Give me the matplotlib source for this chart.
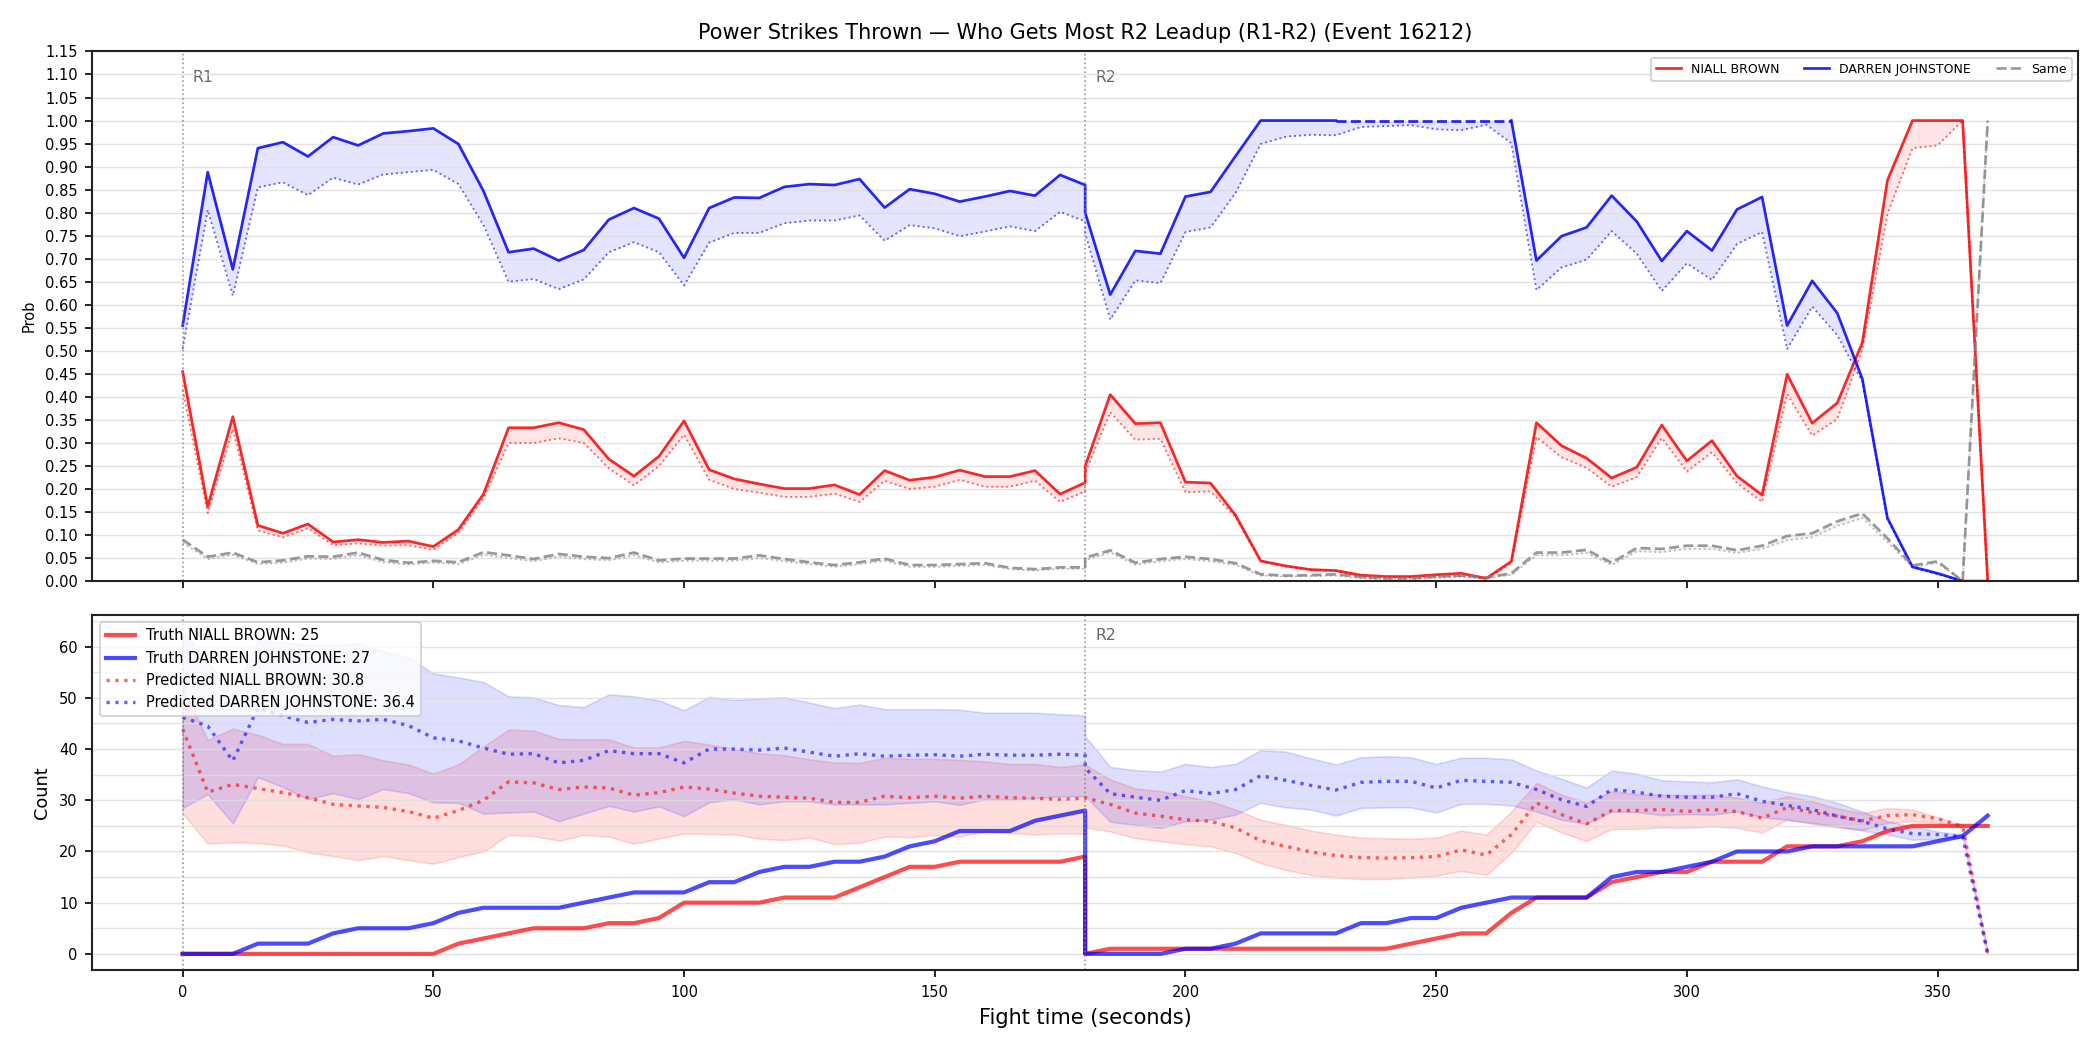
import numpy as np
import matplotlib
matplotlib.use("Agg")
import matplotlib.pyplot as plt
from matplotlib.ticker import MultipleLocator

# ---------------- data ----------------
t_r1 = list(range(0, 181, 5))
t_r2 = list(range(180, 361, 5))
fighters = ["NIALL BROWN", "DARREN JOHNSTONE"]
title = "Power Strikes Thrown \u2014 Who Gets Most R2 Leadup (R1-R2) (Event 16212)"
round_labels = ["R1", "R2"]
round_starts = [0, 180]

# top panel: probabilities (solid = raw, dotted = normalised)
nb_prob_r1 = [0.455,0.162,0.357,0.121,0.104,0.124,0.085,0.090,0.084,0.087,0.075,0.112,0.189,0.333,0.333,0.344,0.329,0.265,0.228,0.271,0.348,0.242,0.222,0.211,0.201,0.201,0.209,0.188,0.240,0.219,0.226,0.241,0.227,0.227,0.240,0.189,0.214]
nb_norm_r1 = [0.415,0.148,0.330,0.110,0.095,0.115,0.078,0.082,0.077,0.078,0.068,0.105,0.180,0.300,0.300,0.310,0.300,0.245,0.208,0.250,0.318,0.220,0.200,0.192,0.183,0.183,0.190,0.172,0.218,0.200,0.205,0.220,0.205,0.205,0.218,0.172,0.195]
dj_prob_r1 = [0.555,0.888,0.677,0.940,0.953,0.922,0.964,0.946,0.972,0.977,0.983,0.949,0.847,0.714,0.722,0.696,0.719,0.785,0.810,0.787,0.702,0.810,0.833,0.832,0.856,0.862,0.860,0.873,0.811,0.851,0.841,0.824,0.835,0.847,0.837,0.882,0.860]
dj_norm_r1 = [0.504,0.806,0.620,0.855,0.866,0.838,0.876,0.861,0.883,0.888,0.893,0.862,0.773,0.650,0.656,0.634,0.655,0.714,0.736,0.714,0.642,0.735,0.756,0.756,0.777,0.783,0.783,0.794,0.739,0.773,0.766,0.749,0.759,0.770,0.760,0.802,0.781]
same_prob_r1 = [0.090,0.053,0.062,0.041,0.045,0.054,0.053,0.062,0.046,0.040,0.044,0.041,0.063,0.056,0.048,0.059,0.053,0.050,0.062,0.045,0.049,0.049,0.049,0.056,0.048,0.041,0.035,0.041,0.049,0.035,0.035,0.037,0.039,0.029,0.026,0.030,0.030]
same_norm_r1 = [0.083,0.048,0.057,0.037,0.040,0.049,0.048,0.056,0.041,0.036,0.040,0.037,0.057,0.050,0.043,0.053,0.048,0.045,0.056,0.040,0.044,0.044,0.044,0.050,0.043,0.037,0.031,0.037,0.044,0.031,0.031,0.033,0.035,0.026,0.023,0.027,0.027]

nb_prob_r2 = [0.250,0.405,0.342,0.344,0.215,0.213,0.143,0.044,0.033,0.025,0.023,0.013,0.010,0.010,0.014,0.017,0.006,0.043,0.344,0.294,0.267,0.224,0.247,0.339,0.261,0.305,0.228,0.187,0.449,0.343,0.387,0.518,0.870,1.0,1.0,1.0,0.0]
nb_norm_r2 = [0.235,0.367,0.307,0.309,0.193,0.195,0.139,0.043,0.032,0.025,0.022,0.009,0.008,0.008,0.009,0.012,0.005,0.039,0.313,0.269,0.246,0.205,0.226,0.311,0.238,0.280,0.213,0.172,0.406,0.316,0.352,0.503,0.797,0.940,0.946,1.0,0.0]
dj_prob_r2 = [0.800,0.622,0.717,0.711,0.835,0.845,0.923,1.0,1.0,1.0,1.0,1.0,1.0,1.0,1.0,1.0,1.0,1.0,0.696,0.749,0.768,0.837,0.781,0.695,0.760,0.718,0.807,0.834,0.555,0.652,0.582,0.439,0.137,0.031,0.017,0.0,0.0]
dj_norm_r2 = [0.755,0.568,0.653,0.647,0.758,0.768,0.843,0.949,0.965,0.969,0.968,0.986,0.988,0.990,0.981,0.979,0.991,0.951,0.632,0.681,0.698,0.760,0.711,0.630,0.690,0.654,0.732,0.758,0.504,0.596,0.534,0.433,0.135,0.030,0.015,0.0,0.0]
same_prob_r2 = [0.051,0.067,0.040,0.048,0.053,0.048,0.039,0.015,0.012,0.013,0.015,0.009,0.006,0.006,0.010,0.012,0.008,0.017,0.062,0.062,0.068,0.040,0.072,0.070,0.077,0.077,0.067,0.077,0.098,0.104,0.130,0.147,0.093,0.034,0.043,0.0,1.0]
same_norm_r2 = [0.046,0.062,0.036,0.043,0.048,0.043,0.035,0.012,0.010,0.011,0.012,0.006,0.004,0.004,0.007,0.009,0.006,0.014,0.056,0.056,0.061,0.035,0.065,0.063,0.070,0.070,0.061,0.070,0.089,0.095,0.120,0.137,0.085,0.030,0.040,0.0,1.0]
# span where the DARREN JOHNSTONE curve is drawn dashed at the top
dj_dash_span = [230, 265]

# bottom panel: cumulative counts
nb_truth_r1 = [0,0,0,0,0,0,0,0,0,0,0,2,3,4,5,5,5,6,6,7,10,10,10,10,11,11,11,13,15,17,17,18,18,18,18,18,19]
dj_truth_r1 = [0,0,0,2,2,2,4,5,5,5,6,8,9,9,9,9,10,11,12,12,12,14,14,16,17,17,18,18,19,21,22,24,24,24,26,27,28]
nb_truth_r2 = [0,1,1,1,1,1,1,1,1,1,1,1,1,2,3,4,4,8,11,11,11,14,15,16,16,18,18,18,21,21,21,22,24,25,25,25,25]
dj_truth_r2 = [0,0,0,0,1,1,2,4,4,4,4,6,6,7,7,9,10,11,11,11,11,15,16,16,17,18,20,20,20,21,21,21,21,21,22,23,27]

nb_pred_r1 = [43.9,31.6,33.1,32.3,31.5,30.5,29.2,28.9,28.6,27.8,26.5,28.0,30.0,33.6,33.4,32.1,32.6,32.4,31.0,31.5,32.6,32.2,31.4,30.8,30.6,30.4,29.6,29.6,30.8,30.5,30.8,30.4,30.8,30.5,30.4,30.2,30.4]
dj_pred_r1 = [46.2,44.5,37.7,48.0,46.5,45.2,45.8,45.5,45.8,44.6,42.2,41.6,40.2,39.0,39.1,37.3,37.8,39.7,39.1,39.1,37.3,40.0,40.0,39.8,40.2,39.4,38.6,39.1,38.6,38.8,38.9,38.6,39.0,38.8,38.8,39.0,38.8]
nb_hi_r1 = [52.0,41.8,44.0,42.8,41.0,41.0,38.7,39.0,37.8,37.0,35.2,37.0,40.5,43.8,43.6,42.0,41.9,41.9,40.3,40.3,41.6,40.9,40.0,39.2,38.8,38.0,37.4,37.3,38.3,38.1,38.1,37.9,37.6,37.1,37.1,36.5,37.0]
nb_lo_r1 = [27.5,21.5,21.8,21.6,21.2,19.8,19.1,18.3,19.1,18.3,17.6,18.9,20.0,23.2,23.0,22.1,23.2,22.9,21.5,22.5,23.5,23.4,23.3,22.5,22.2,22.7,21.4,21.7,22.9,22.8,23.2,22.9,23.9,23.6,23.3,23.5,23.5]
dj_hi_r1 = [63.0,57.0,50.3,61.3,60.8,60.4,60.4,60.6,59.2,57.9,54.8,54.0,53.1,50.3,50.1,48.6,48.2,50.7,50.3,49.5,47.6,50.2,49.6,49.9,50.1,49.1,48.0,48.7,47.8,47.8,47.8,47.7,47.1,47.1,47.1,46.8,46.6]
dj_lo_r1 = [28.5,31.2,25.5,34.5,32.6,30.2,31.4,30.2,32.2,31.4,29.6,29.5,27.4,27.6,27.8,25.9,27.4,28.9,27.8,28.8,26.9,29.6,30.2,29.2,29.8,29.8,29.2,29.2,29.2,29.5,29.8,29.1,30.2,30.2,30.4,30.8,30.8]

nb_pred_r2 = [30.5,29.2,27.5,26.9,26.2,25.9,24.6,22.1,21.0,19.9,19.2,18.8,18.7,18.8,19.0,20.3,19.3,23.3,29.5,27.2,25.4,28.0,28.0,28.2,27.8,28.2,27.8,26.5,28.6,27.6,26.9,26.0,27.0,27.2,26.4,24.9,0.0]
dj_pred_r2 = [36.3,31.3,30.6,30.0,31.9,31.3,32.1,34.8,33.9,32.9,32.0,33.5,33.7,33.7,32.4,33.9,33.7,33.5,32.1,30.1,28.8,32.1,31.6,30.8,30.6,30.6,31.3,29.8,29.0,28.2,26.9,25.9,24.4,23.5,23.3,22.9,0.0]
nb_hi_r2 = [36.9,34.1,32.3,31.8,30.8,29.8,28.2,26.2,25.2,24.1,23.3,22.7,22.6,22.5,22.7,24.1,23.3,27.8,33.4,31.1,29.5,31.8,31.2,31.1,31.0,31.1,30.5,29.5,30.8,29.8,28.4,27.5,28.5,28.2,26.7,25.1,0.0]
nb_lo_r2 = [24.7,23.9,22.6,22.0,21.4,21.0,19.7,17.7,16.4,15.4,14.9,14.6,14.6,14.9,15.3,16.2,15.4,19.7,25.8,23.7,22.0,24.4,24.4,24.7,24.6,24.9,24.6,23.7,26.2,25.4,24.7,24.2,25.6,25.9,25.6,24.7,0.0]
dj_hi_r2 = [42.5,36.5,35.9,35.6,37.1,36.5,37.1,39.8,39.5,38.2,37.0,38.4,38.6,38.4,37.1,38.3,38.3,38.0,35.8,34.2,32.5,35.8,35.2,33.9,33.7,33.5,34.1,32.7,31.6,30.8,29.5,27.8,25.9,24.9,23.9,23.3,0.0]
dj_lo_r2 = [30.8,25.8,25.2,24.6,25.9,26.2,27.2,29.5,28.6,28.2,27.0,28.5,28.6,28.6,27.6,29.3,29.3,29.0,27.8,26.2,25.4,27.8,27.7,27.1,27.3,27.2,27.8,26.7,26.2,25.6,24.9,24.1,23.3,22.3,22.5,22.7,0.0]

pred_totals = [30.8, 36.4]

# ---------------- assemble ----------------
t = np.array(t_r1 + t_r2, dtype=float)
def cat(a, b):
    return np.array(a + b, dtype=float)

nb_prob, nb_norm = cat(nb_prob_r1, nb_prob_r2), cat(nb_norm_r1, nb_norm_r2)
dj_prob, dj_norm = cat(dj_prob_r1, dj_prob_r2), cat(dj_norm_r1, dj_norm_r2)
sm_prob, sm_norm = cat(same_prob_r1, same_prob_r2), cat(same_norm_r1, same_norm_r2)

nb_truth, dj_truth = cat(nb_truth_r1, nb_truth_r2), cat(dj_truth_r1, dj_truth_r2)
nb_pred, dj_pred = cat(nb_pred_r1, nb_pred_r2), cat(dj_pred_r1, dj_pred_r2)
nb_hi, nb_lo = cat(nb_hi_r1, nb_hi_r2), cat(nb_lo_r1, nb_lo_r2)
dj_hi, dj_lo = cat(dj_hi_r1, dj_hi_r2), cat(dj_lo_r1, dj_lo_r2)

RED, BLUE = "red", "blue"

fig, (ax1, ax2) = plt.subplots(
    2, 1, figsize=(14, 7), dpi=150, sharex=True,
    gridspec_kw=dict(height_ratios=[530, 355]))
fig.subplots_adjust(left=0.044, right=0.9895, top=0.951, bottom=0.0762, hspace=0.077)

# ---------------- top panel ----------------
ax1.fill_between(t, nb_norm, nb_prob, color=RED, alpha=0.1, linewidth=0)
ax1.fill_between(t, dj_norm, dj_prob, color=BLUE, alpha=0.1, linewidth=0)
ax1.fill_between(t, sm_norm, sm_prob, color="gray", alpha=0.1, linewidth=0)

ax1.plot(t, nb_norm, color=RED, lw=0.9, ls=":", alpha=0.6)
ax1.plot(t, dj_norm, color=BLUE, lw=0.9, ls=":", alpha=0.6)
ax1.plot(t, sm_norm, color="gray", lw=0.9, ls=":", alpha=0.5)

ax1.plot(t, nb_prob, color=RED, lw=1.3, alpha=0.85, label=fighters[0])
dj_solid = dj_prob.copy()
in_dash = (t > dj_dash_span[0]) & (t < dj_dash_span[1])
dj_solid[in_dash] = np.nan
ax1.plot(t, dj_solid, color=BLUE, lw=1.3, alpha=0.85, label=fighters[1])
mask = (t >= dj_dash_span[0]) & (t <= dj_dash_span[1])
ax1.plot(t[mask], dj_prob[mask], color=BLUE, lw=1.3, alpha=0.85, ls="--")
ax1.plot(t, sm_prob, color="gray", lw=1.3, alpha=0.8, ls="--", label="Same")

ax1.set_ylim(0, 1.15)
ax1.yaxis.set_major_locator(MultipleLocator(0.05))
ax1.yaxis.set_major_formatter(matplotlib.ticker.FormatStrFormatter("%.2f"))
ax1.tick_params(axis="both", labelsize=7)
ax1.set_ylabel("Prob", fontsize=7)
ax1.grid(axis="y", color="#dddddd", lw=0.7, alpha=0.8)
ax1.set_title(title, fontsize=10)
leg1 = ax1.legend(loc="upper right", ncol=3, fontsize=6, framealpha=0.8)

# ---------------- bottom panel ----------------
ax2.fill_between(t, nb_lo, nb_hi, color=RED, alpha=0.13, linewidth=0.8)
ax2.fill_between(t, dj_lo, dj_hi, color=BLUE, alpha=0.13, linewidth=0.8)
ax2.plot(t, nb_truth, color=RED, lw=2, alpha=0.7,
         label=f"Truth {fighters[0]}: {int(nb_truth[-1])}")
ax2.plot(t, dj_truth, color=BLUE, lw=2, alpha=0.7,
         label=f"Truth {fighters[1]}: {int(dj_truth[-1])}")
ax2.plot(t, nb_pred, color=RED, lw=1.6, alpha=0.6, ls=":",
         label=f"Predicted {fighters[0]}: {pred_totals[0]}")
ax2.plot(t, dj_pred, color=BLUE, lw=1.6, alpha=0.6, ls=":",
         label=f"Predicted {fighters[1]}: {pred_totals[1]}")

ax2.yaxis.set_major_locator(MultipleLocator(10))
ax2.yaxis.set_minor_locator(MultipleLocator(5))
ax2.tick_params(axis="both", labelsize=7)
ax2.tick_params(axis="y", which="minor", length=0)
ax2.grid(axis="y", which="both", color="#dddddd", lw=0.7, alpha=0.8)
ax2.set_ylabel("Count", fontsize=8.5)
ax2.set_xlabel("Fight time (seconds)", fontsize=10)

for ax in (ax1, ax2):
    for lab, x0 in zip(round_labels, round_starts):
        ax.axvline(x0, color="gray", ls=":", lw=0.8, alpha=0.8)
        ax.text(x0 + 2, 0.965, lab, transform=ax.get_xaxis_transform(),
                ha="left", va="top", fontsize=7.5, color="dimgray", zorder=1)
    for s in ax.spines.values():
        s.set_linewidth(1.0)
        s.set_color("#222222")

leg2 = ax2.legend(loc="upper left", fontsize=7, framealpha=0.8)
leg2.set_zorder(10)

fig.savefig("out.png", dpi=150)
